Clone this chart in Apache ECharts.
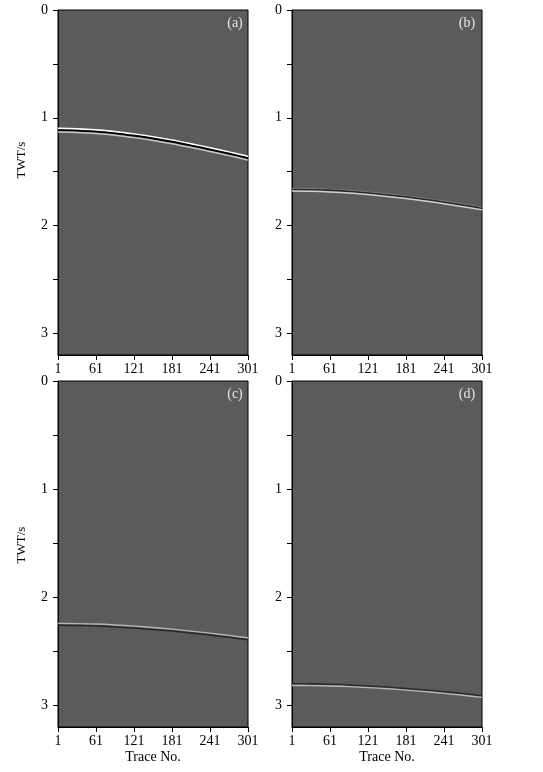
<!DOCTYPE html>
<html>
<head>
<meta charset="utf-8">
<script src="https://cdn.jsdelivr.net/npm/echarts@6/dist/echarts.min.js"></script>
<style>html,body{margin:0;padding:0;background:#fff}#c{width:543px;height:772px}</style>
</head>
<body>
<div id="c"></div>
<script>
// ---- data ----
var traces = [1, 31, 61, 91, 121, 151, 181, 211, 241, 271, 301];
var xTicks = [1, 61, 121, 181, 241, 301];
var yTicks = [0, 0.5, 1, 1.5, 2, 2.5, 3];
var yLabels = [0, 1, 2, 3];
var panelNames = ['(a)', '(b)', '(c)', '(d)'];
var twtA = [1.110, 1.114, 1.124, 1.140, 1.162, 1.188, 1.218, 1.253, 1.290, 1.329, 1.370];
var twtB = [1.667, 1.669, 1.675, 1.685, 1.700, 1.717, 1.737, 1.760, 1.785, 1.812, 1.842];
var twtC = [2.248, 2.250, 2.254, 2.262, 2.273, 2.286, 2.301, 2.319, 2.338, 2.359, 2.381];
var twtD = [2.806, 2.807, 2.811, 2.817, 2.826, 2.836, 2.849, 2.863, 2.879, 2.897, 2.916];
// wavelet lobes: time offset (s) relative to event
var lobeOffA = [-0.012, 0.004, 0.022];
var lobeOffB = [-0.012, -0.002, 0.012];
var lobeOffC = [-0.006, 0.012];
var lobeOffD = [-0.006, 0.010];

// ---- styles ----
var font = 'Liberation Serif';
var lobeStyle = [
  [{c:'#ffffff', w:1.7}, {c:'#000000', w:1.8}, {c:'#c8c8c8', w:1.4}],
  [{c:'#7a7a7a', w:1.2}, {c:'#262626', w:1.5}, {c:'#d0d0d0', w:1.5}],
  [{c:'#b4b4b4', w:1.4}, {c:'#262626', w:1.5}],
  [{c:'#2a2a2a', w:1.5}, {c:'#b8b8b8', w:1.4}]
];
var events = [twtA, twtB, twtC, twtD];
var offsets = [lobeOffA, lobeOffB, lobeOffC, lobeOffD];

var grids = [
  {left: 58, top: 10, width: 190, height: 345},
  {left: 292, top: 10, width: 190, height: 345},
  {left: 58, top: 381, width: 190, height: 346},
  {left: 292, top: 381, width: 190, height: 346}
];

var option = {
  animation: false,
  grid: grids.map(function (g) {
    return Object.assign({show: true, backgroundColor: '#5b5b5b', borderColor: '#000', borderWidth: 1}, g);
  }),
  xAxis: grids.map(function (g, i) {
    return {
      gridIndex: i, type: 'value', min: 1, max: 301,
      name: i >= 2 ? 'Trace No.' : '', nameLocation: 'middle', nameGap: 23,
      nameTextStyle: {fontFamily: font, fontSize: 14, color: '#000'},
      axisLine: {show: true, onZero: false, lineStyle: {color: '#000', width: 1}},
      axisTick: {show: true, length: 5, inside: false, customValues: xTicks, lineStyle: {color: '#000'}},
      axisLabel: {show: true, margin: 7, customValues: xTicks, fontFamily: font, fontSize: 14, color: '#000'},
      splitLine: {show: false}
    };
  }),
  yAxis: grids.map(function (g, i) {
    return {
      gridIndex: i, type: 'value', min: 0, max: 3.2, inverse: true,
      axisLine: {show: true, onZero: false, lineStyle: {color: '#000', width: 1}},
      axisTick: {show: true, length: 5, inside: false, customValues: yTicks, lineStyle: {color: '#000'}},
      axisLabel: {show: true, margin: 10, customValues: yLabels, fontFamily: font, fontSize: 14, color: '#000'},
      splitLine: {show: false}
    };
  }),
  series: [],
  graphic: []
};

events.forEach(function (ev, i) {
  offsets[i].forEach(function (off, k) {
    var st = lobeStyle[i][k];
    option.series.push({
      type: 'line', xAxisIndex: i, yAxisIndex: i, smooth: 0.3,
      showSymbol: false, silent: true,
      data: traces.map(function (t, j) { return [t, ev[j] + off]; }),
      lineStyle: {color: st.c, width: st.w}
    });
  });
});

var labelPos = [[235, 23], [467, 23], [235, 394], [467, 394]];
panelNames.forEach(function (n, i) {
  option.graphic.push({
    type: 'text', x: labelPos[i][0], y: labelPos[i][1],
    style: {text: n, fill: '#e6e6e6', font: '14px "Liberation Serif"', textAlign: 'center', textVerticalAlign: 'middle'}
  });
});
[[22, 160], [22, 545]].forEach(function (p) {
  option.graphic.push({
    type: 'text', x: p[0], y: p[1], rotation: Math.PI / 2,
    style: {text: 'TWT/s', fill: '#000', font: '13px "Liberation Serif"', textAlign: 'center', textVerticalAlign: 'middle'}
  });
});

var chart = echarts.init(document.getElementById('c'), null, {renderer: 'canvas'});
chart.setOption(option);
</script>
</body>
</html>
